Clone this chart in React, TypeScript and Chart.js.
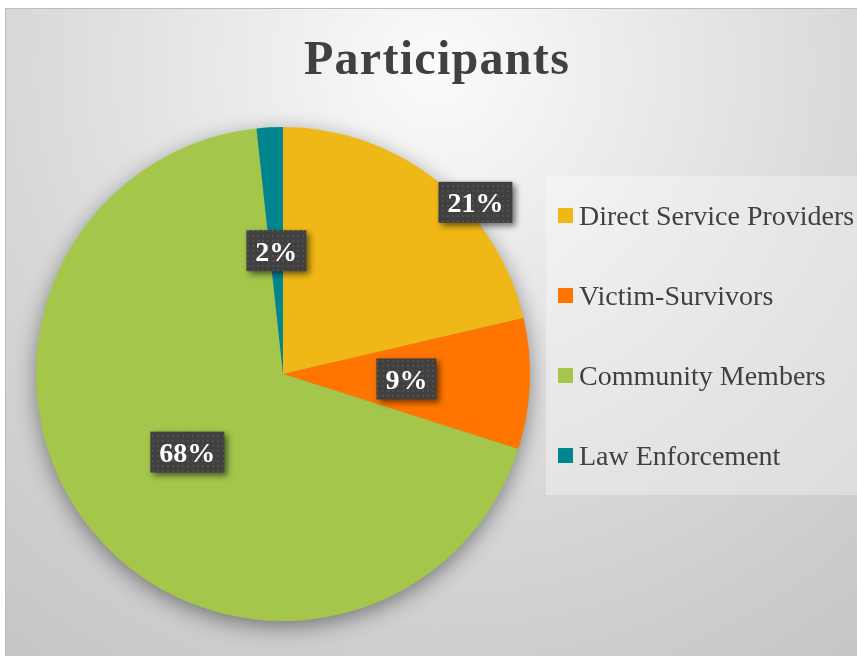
import React, { useEffect, useRef } from 'react';
import { Chart, registerables } from 'chart.js';

Chart.register(...registerables);

const chartTitle = 'Participants';
const categories = ['Direct Service Providers', 'Victim-Survivors', 'Community Members', 'Law Enforcement'];
const counts = [25, 10, 80, 2];
const sliceColors = ['#EFB817', '#FF7500', '#A3C64B', '#01868F'];
// data label placement per slice: [radius fraction, angle shift in degrees]
const labelPlacement = [
  [1.044, 9.8],
  [0.5, 0],
  [0.5, 0],
  [0.5, 0],
];

const TEXT_COLOR = '#404040';
const SERIF = '"Liberation Serif", "Times New Roman", serif';

function makePattern(ctx: CanvasRenderingContext2D) {
  const c = document.createElement('canvas');
  c.width = 5;
  c.height = 5;
  const p = c.getContext('2d')!;
  p.fillStyle = '#404040';
  p.fillRect(0, 0, 5, 5);
  p.fillStyle = '#505050';
  p.fillRect(2, 2, 2, 2);
  return ctx.createPattern(c, 'repeat');
}

const decorPlugin = {
  id: 'decor',
  beforeDraw(chart: any) {
    const ctx: CanvasRenderingContext2D = chart.ctx;
    // legend backdrop
    ctx.save();
    ctx.fillStyle = 'rgba(255,255,255,0.32)';
    ctx.fillRect(541, 168, 330, 319);
    ctx.restore();
    // title
    ctx.save();
    ctx.font = `bold 48px ${SERIF}`;
    (ctx as any).letterSpacing = '1.3px';
    ctx.fillStyle = TEXT_COLOR;
    ctx.textAlign = 'center';
    ctx.textBaseline = 'alphabetic';
    ctx.fillText(chartTitle, 432, 66);
    ctx.restore();
    // legend items
    ctx.save();
    ctx.font = `28px ${SERIF}`;
    ctx.textBaseline = 'alphabetic';
    ctx.textAlign = 'left';
    categories.forEach((label, i) => {
      const cy = 207.5 + i * 80;
      ctx.fillStyle = sliceColors[i];
      ctx.fillRect(553, cy - 7.5, 15, 15);
      ctx.fillStyle = TEXT_COLOR;
      ctx.fillText(label, 574, cy + 9);
    });
    ctx.restore();
  },
  beforeDatasetsDraw(chart: any) {
    const ctx: CanvasRenderingContext2D = chart.ctx;
    const arc = chart.getDatasetMeta(0).data[0];
    if (!arc) return;
    const { x, y, outerRadius } = arc.getProps(['x', 'y', 'outerRadius'], true);
    ctx.save();
    ctx.shadowColor = 'rgba(0,0,0,0.45)';
    ctx.shadowBlur = 22;
    ctx.shadowOffsetY = 6;
    ctx.fillStyle = '#999999';
    ctx.beginPath();
    ctx.arc(x, y, outerRadius - 1, 0, Math.PI * 2);
    ctx.fill();
    ctx.restore();
  },
  afterDatasetsDraw(chart: any) {
    const ctx: CanvasRenderingContext2D = chart.ctx;
    const meta = chart.getDatasetMeta(0);
    const values: number[] = chart.data.datasets[0].data;
    const total = values.reduce((a, b) => a + b, 0);
    const pattern = makePattern(ctx);
    meta.data.forEach((el: any, i: number) => {
      const { x, y, startAngle, endAngle, outerRadius } = el.getProps(
        ['x', 'y', 'startAngle', 'endAngle', 'outerRadius'],
        true
      );
      const [rf, shift] = labelPlacement[i];
      const a = (startAngle + endAngle) / 2 + (shift * Math.PI) / 180;
      const lx = x + Math.cos(a) * outerRadius * rf;
      const ly = y + Math.sin(a) * outerRadius * rf;
      const text = `${Math.round((values[i] / total) * 100)}%`;
      ctx.save();
      ctx.font = `bold 28px ${SERIF}`;
      const w = ctx.measureText(text).width + 18;
      const h = 41;
      ctx.shadowColor = 'rgba(0,0,0,0.55)';
      ctx.shadowBlur = 6;
      ctx.shadowOffsetX = 3;
      ctx.shadowOffsetY = 3;
      ctx.fillStyle = pattern || '#404040';
      ctx.fillRect(lx - w / 2, ly - h / 2, w, h);
      ctx.shadowColor = 'transparent';
      ctx.fillStyle = '#ffffff';
      ctx.textAlign = 'center';
      ctx.textBaseline = 'alphabetic';
      ctx.fillText(text, lx, ly + 10);
      ctx.restore();
    });
  },
};

export default function App() {
  const canvasRef = useRef<HTMLCanvasElement | null>(null);

  useEffect(() => {
    if (!canvasRef.current) return;
    const chart = new Chart(canvasRef.current, {
      type: 'pie',
      data: {
        labels: categories,
        datasets: [
          {
            data: counts,
            backgroundColor: sliceColors,
            borderWidth: 0,
          },
        ],
      },
      options: {
        responsive: false,
        animation: false,
        layout: { padding: { left: 31, right: 338, top: 119, bottom: 47 } },
        plugins: {
          legend: { display: false },
          title: { display: false },
          tooltip: { enabled: false },
        },
      },
      plugins: [decorPlugin],
    });
    return () => chart.destroy();
  }, []);

  return (
    <div
      style={{
        position: 'fixed',
        left: 5,
        top: 8,
        width: 852,
        height: 648,
        overflow: 'hidden',
        boxSizing: 'border-box',
        borderTop: '1px solid #bdbdbd',
        borderLeft: '1px solid #bdbdbd',
        background:
          'radial-gradient(circle at 431px 60px, #fbfbfb 0px, #e9e9e9 220px, #d8d8d8 430px, #cdcdcd 600px, #c4c4c4 760px)',
      }}
    >
      <div style={{ position: 'absolute', left: -1, top: -1, width: 863, height: 660 }}>
        <canvas ref={canvasRef} width={863} height={660} style={{ display: 'block' }} />
      </div>
    </div>
  );
}
